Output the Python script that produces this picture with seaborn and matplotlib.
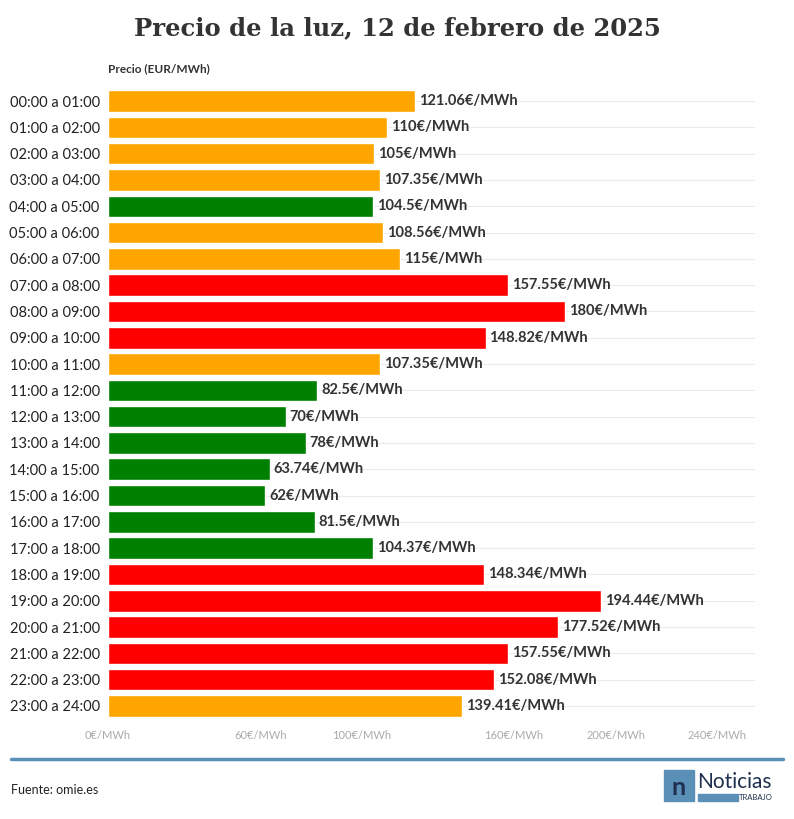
import matplotlib.pyplot as plt
import pandas as pd
import seaborn as sns
from matplotlib.patches import Rectangle

hours = [f"{h:02d}:00 a {h + 1:02d}:00" for h in range(24)]
prices = [121.06, 110, 105, 107.35, 104.5, 108.56, 115, 157.55, 180, 148.82, 107.35, 82.5,
          70, 78, 63.74, 62, 81.5, 104.37, 148.34, 194.44, 177.52, 157.55, 152.08, 139.41]
levels = ['medio', 'medio', 'medio', 'medio', 'bajo', 'medio', 'medio', 'alto', 'alto', 'alto',
          'medio', 'bajo', 'bajo', 'bajo', 'bajo', 'bajo', 'bajo', 'bajo', 'alto', 'alto',
          'alto', 'alto', 'alto', 'medio']
tick_values = list(range(0, 241, 20))
tick_labels = ['0€/MWh', '', '', '60€/MWh', '', '100€/MWh', '', '', '160€/MWh', '', '200€/MWh', '', '240€/MWh']

palette = {'bajo': '#008000', 'medio': '#FFA500', 'alto': '#FF0000'}
df = pd.DataFrame({'hora': hours, 'precio': prices, 'nivel': levels})

sns.set_style('white')
plt.rcParams['font.family'] = ['Lato', 'DejaVu Sans']

fig = plt.figure(figsize=(7.94, 8.19), dpi=100)
ax = fig.add_axes([0.136, 0.122, 0.815, 0.7706])

sns.barplot(data=df, x='precio', y='hora', hue='nivel', palette=palette, dodge=False,
            legend=False, width=0.82, saturation=1, ax=ax)

ax.set_xlim(0, 255)
ax.set_ylim(23.5, -0.5)
for i in range(24):
    ax.axhline(i, color='#ebebeb', lw=0.8, zorder=0)
for i, p in enumerate(prices):
    ax.text(p + 1.5, i, f"{p:g}€/MWh", va='center', ha='left', fontsize=10.5,
            fontweight='bold', color='#333333')

ax.set_xticks(tick_values)
ax.set_xticklabels(tick_labels, fontsize=8, color='#aaaaaa')
ax.tick_params(axis='x', length=6, color='#dddddd', pad=2)
ax.tick_params(axis='y', length=4, color='#dddddd', labelsize=10.5, labelcolor='#222222', pad=2)
ax.set_xlabel('')
ax.set_ylabel('')
for s in ax.spines.values():
    s.set_visible(False)

fig.text(0.5, 0.966, 'Precio de la luz, 12 de febrero de 2025', ha='center', va='center',
         fontsize=17.5, fontweight='bold', family='DejaVu Serif', color='#333333')
fig.text(0.136, 0.916, 'Precio (EUR/MWh)', ha='left', va='center', fontsize=8.5,
         fontweight='bold', color='#333333')

fig.add_artist(plt.Line2D([0.014, 0.986], [0.073, 0.073], color='#5a8fb8', lw=2.5))
fig.text(0.014, 0.036, 'Fuente: omie.es', ha='left', va='center', fontsize=9, color='#222222')

fig.add_artist(Rectangle((0.836, 0.022), 0.038, 0.038, color='#5a8fb8', transform=fig.transFigure))
fig.text(0.855, 0.039, 'n', ha='center', va='center', fontsize=18, fontweight='bold', color='#1f2f4f')
fig.text(0.878, 0.045, 'Noticias', ha='left', va='center', fontsize=15, color='#1f2f4f')
fig.add_artist(Rectangle((0.879, 0.022), 0.05, 0.008, color='#5a8fb8', transform=fig.transFigure))
fig.text(0.931, 0.026, 'TRABAJO', ha='left', va='center', fontsize=5.5, color='#1f2f4f')

fig.savefig('out.png', dpi=100)
